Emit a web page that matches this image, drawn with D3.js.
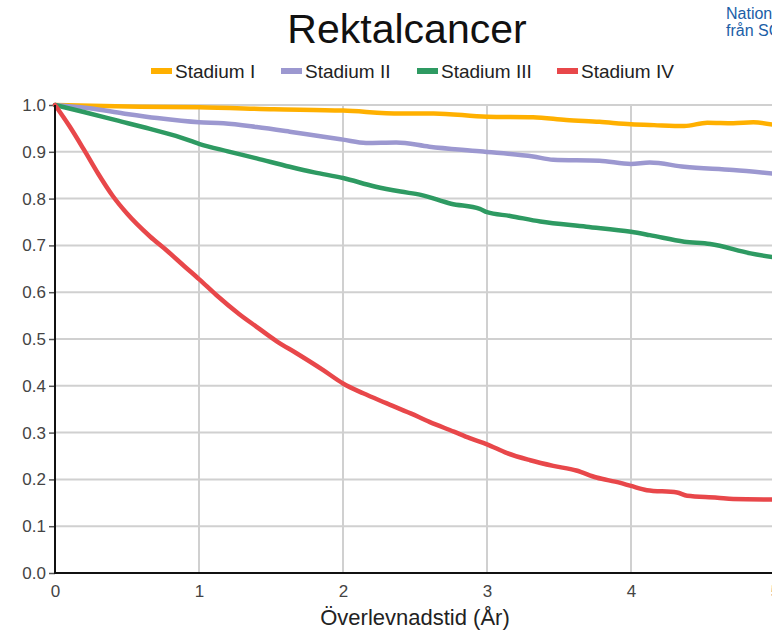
<!DOCTYPE html>
<html>
<head>
<meta charset="utf-8">
<script src="https://cdn.jsdelivr.net/npm/d3@7"></script>
<style>
  html, body { margin: 0; padding: 0; background: #fff; overflow: hidden; }
  svg { display: block; font-family: "Liberation Sans", Arial, sans-serif; }
</style>
</head>
<body>
<svg id="chart" width="772" height="630"></svg>
<script>
// Kaplan–Meier survival by stage, rectal cancer
const seriesNames = ["Stadium I", "Stadium II", "Stadium III", "Stadium IV"];
const seriesColors = ["#FFB000", "#9C98D0", "#2E9A62", "#E8474A"];

const timeI = [0, 0.59, 1.0, 1.52, 2.0, 2.4, 2.63, 3.0, 3.32, 3.55, 3.78, 4.0, 4.16, 4.37, 4.53, 4.71, 4.85, 5.0];
const survI = [1.0, 0.996, 0.995, 0.991, 0.988, 0.982, 0.982, 0.975, 0.974, 0.968, 0.964, 0.959, 0.957, 0.955, 0.962, 0.961, 0.963, 0.957];

const timeII = [0, 0.24, 0.475, 0.71, 1.0, 1.17, 1.4, 1.63, 1.865, 2.0, 2.16, 2.37, 2.6, 2.95, 3.32, 3.46, 3.78, 4.0, 4.13, 4.37, 4.71, 5.0];
const survII = [1.0, 0.993, 0.982, 0.972, 0.963, 0.961, 0.953, 0.943, 0.932, 0.926, 0.919, 0.920, 0.911, 0.901, 0.890, 0.883, 0.881, 0.874, 0.877, 0.868, 0.861, 0.853];

const timeIII = [0, 0.2, 0.43, 0.66, 0.87, 1.0, 1.2, 1.4, 1.63, 1.8, 2.0, 2.22, 2.4, 2.54, 2.75, 2.95, 3.0, 3.16, 3.37, 3.69, 4.0, 4.13, 4.37, 4.55, 4.83, 5.0];
const survIII = [1.0, 0.985, 0.967, 0.949, 0.931, 0.917, 0.901, 0.886, 0.868, 0.856, 0.844, 0.826, 0.815, 0.808, 0.789, 0.778, 0.771, 0.763, 0.751, 0.740, 0.729, 0.722, 0.708, 0.703, 0.683, 0.674];

const timeIV = [0, 0.1, 0.2, 0.3, 0.4, 0.5, 0.66, 0.78, 0.9, 1.0, 1.12, 1.28, 1.4, 1.54, 1.68, 1.86, 2.0, 2.14, 2.3, 2.47, 2.6, 2.77, 2.88, 3.0, 3.14, 3.3, 3.46, 3.62, 3.76, 3.92, 4.0, 4.11, 4.32, 4.39, 4.6, 4.71, 5.0];
const survIV = [1.0, 0.955, 0.905, 0.853, 0.806, 0.768, 0.719, 0.688, 0.655, 0.628, 0.594, 0.553, 0.526, 0.495, 0.469, 0.434, 0.405, 0.384, 0.363, 0.341, 0.323, 0.302, 0.288, 0.275, 0.256, 0.241, 0.229, 0.219, 0.204, 0.193, 0.186, 0.177, 0.172, 0.165, 0.161, 0.158, 0.157];

const xTicks = [0, 1, 2, 3, 4, 5];
const yTicks = [0, 0.1, 0.2, 0.3, 0.4, 0.5, 0.6, 0.7, 0.8, 0.9, 1.0];

const titleText = "Rektalcancer";
const xAxisTitle = "Överlevnadstid (År)";
const sourceLines = ["Nationella kvalitetsregistret", "från SCRCR"];

const series = [
  { name: seriesNames[0], color: seriesColors[0], t: timeI, s: survI },
  { name: seriesNames[1], color: seriesColors[1], t: timeII, s: survII },
  { name: seriesNames[2], color: seriesColors[2], t: timeIII, s: survIII },
  { name: seriesNames[3], color: seriesColors[3], t: timeIV, s: survIV }
];

const svg = d3.select("#chart");
const plot = { left: 55, right: 775, top: 105, bottom: 573 };

const x = d3.scaleLinear().domain([0, 5]).range([plot.left, plot.right]);
const y = d3.scaleLinear().domain([0, 1]).range([plot.bottom, plot.top]);

// Title
svg.append("text")
  .attr("x", 407).attr("y", 43)
  .attr("text-anchor", "middle")
  .attr("font-size", 41)
  .attr("fill", "#111")
  .text(titleText);

// Source note, top right
svg.append("g").selectAll("text").data(sourceLines).join("text")
  .attr("x", 726).attr("y", (d, i) => 19 + i * 17)
  .attr("font-size", 16)
  .attr("fill", "#1B5EA7")
  .text(d => d);

// Legend
const legendX = [151, 281, 417, 557];
const legend = svg.append("g").selectAll("g").data(series).join("g")
  .attr("transform", (d, i) => `translate(${legendX[i]},71)`);
legend.append("rect")
  .attr("x", 0).attr("y", -3).attr("width", 21).attr("height", 6)
  .attr("fill", d => d.color);
legend.append("text")
  .attr("x", 24).attr("y", 7)
  .attr("font-size", 19)
  .attr("fill", "#222")
  .text(d => d.name);

// Gridlines
svg.append("g").selectAll("line").data(yTicks.filter(v => v > 0)).join("line")
  .attr("x1", plot.left).attr("x2", plot.right)
  .attr("y1", d => y(d)).attr("y2", d => y(d))
  .attr("stroke", "#d0d0d0").attr("stroke-width", 2);
svg.append("g").selectAll("line").data(xTicks.filter(v => v > 0)).join("line")
  .attr("x1", d => x(d)).attr("x2", d => x(d))
  .attr("y1", plot.top).attr("y2", plot.bottom)
  .attr("stroke", "#d0d0d0").attr("stroke-width", 2);

// Axes
const yAxis = d3.axisLeft(y).tickValues(yTicks).tickFormat(d3.format(".1f")).tickSize(6).tickPadding(3);
const xAxis = d3.axisBottom(x).tickValues(xTicks).tickFormat(d3.format("d")).tickSize(0).tickPadding(12);

const gy = svg.append("g").attr("transform", `translate(${plot.left},0)`).call(yAxis);
const gx = svg.append("g").attr("transform", `translate(0,${plot.bottom})`).call(xAxis);

[gx, gy].forEach(g => {
  g.selectAll("text").attr("font-size", 17).attr("fill", "#444").attr("font-family", "Liberation Sans, Arial, sans-serif");
  g.selectAll(".tick line").attr("stroke", "#555").attr("stroke-width", 1.5);
  g.select(".domain").remove();
});

// Curves
const line = d3.line()
  .x(d => x(d[0]))
  .y(d => y(d[1]))
  .curve(d3.curveMonotoneX);

svg.append("g").selectAll("path").data(series).join("path")
  .attr("d", d => line(d.t.map((t, i) => [t, d.s[i]])))
  .attr("fill", "none")
  .attr("stroke", d => d.color)
  .attr("stroke-width", 4.5)
  .attr("stroke-linejoin", "round")
  .attr("stroke-linecap", "round");

// Axis lines on top
svg.append("line")
  .attr("x1", plot.left).attr("x2", plot.left)
  .attr("y1", plot.top).attr("y2", plot.bottom + 1)
  .attr("stroke", "#111").attr("stroke-width", 2);
svg.append("line")
  .attr("x1", plot.left - 1).attr("x2", plot.right)
  .attr("y1", plot.bottom).attr("y2", plot.bottom)
  .attr("stroke", "#111").attr("stroke-width", 2);

// X axis title
svg.append("text")
  .attr("x", 415).attr("y", 625)
  .attr("text-anchor", "middle")
  .attr("font-size", 22)
  .attr("fill", "#222")
  .text(xAxisTitle);
</script>
</body>
</html>
